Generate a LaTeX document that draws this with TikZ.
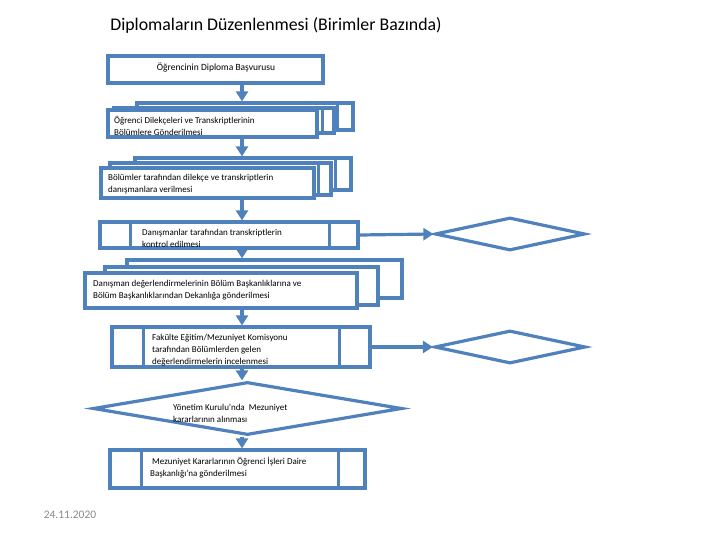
\documentclass[tikz,border=0pt]{standalone}
\usepackage{fontspec}
\setmainfont{Carlito}
\usetikzlibrary{arrows.meta,shapes.geometric}
\definecolor{flowblue}{RGB}{79,129,189}
\definecolor{dategray}{RGB}{137,137,137}
\tikzset{inner sep=0pt}

\begin{document}
\begin{tikzpicture}[x=1pt,y=-1pt,
    box/.style={draw=flowblue,line width=3.2pt,fill=white,rectangle},
    dia/.style={draw=flowblue,line width=3.2pt,fill=white,diamond},
    flow/.style={draw=flowblue,line width=3.2pt,-{Triangle[width=12pt,length=10pt]}},
    stripe/.style={draw=flowblue,line width=3.2pt},
    txt/.style={font=\fontsize{9}{11.8}\selectfont,align=left,anchor=north west}]
    \useasboundingbox (0,0) rectangle (720,540);
    \coordinate (axis) at (242,0);

    \node[font=\fontsize{17.8}{21}\selectfont] (title) at (276,25) {Diplomaların Düzenlenmesi (Birimler Bazında)};

    \node[box,minimum width=215,minimum height=27] (b1) at (215.5,69.5) {};
    \node[font=\fontsize{9.5}{11.5}\selectfont] (t1) at (216,67.5) {Öğrencinin Diploma Başvurusu};

    \node[box,minimum width=216,minimum height=27] (b2a) at (245,116.5) {};
    \draw[stripe] ([xshift=-17]b2a.north east) -- ([xshift=-17]b2a.south east);
    \node[box,minimum width=220,minimum height=25] (b2b) at (224,120.5) {};
    \draw[stripe] ([xshift=-13]b2b.north east) -- ([xshift=-13]b2b.south east);
    \node[box,minimum width=209,minimum height=27] (b2f) at (212.5,123.5) {};
    \node[txt] (t2) at (114,116) {Öğrenci Dilekçeleri ve Transkriptlerinin\\Bölümlere Gönderilmesi};

    \node[box,minimum width=216,minimum height=32] (b3a) at (243,174) {};
    \draw[stripe] ([xshift=-17]b3a.north east) -- ([xshift=-17]b3a.south east);
    \node[box,minimum width=221,minimum height=32] (b3b) at (220.5,179) {};
    \draw[stripe] ([xshift=-14]b3b.north east) -- ([xshift=-14]b3b.south east);
    \node[box,minimum width=213,minimum height=30] (b3f) at (207.5,183) {};
    \node[txt] (t3) at (108,174) {Bölümler tarafından dilekçe ve transkriptlerin\\danışmanlara verilmesi};

    \node[box,minimum width=258,minimum height=26] (b4) at (229,235) {};
    \draw[stripe] ([xshift=32]b4.north west) -- ([xshift=32]b4.south west);
    \draw[stripe] ([xshift=-30]b4.north east) -- ([xshift=-30]b4.south east);
    \node[txt] (t4) at (142,229) {Danışmanlar tarafından transkriptlerin\\kontrol edilmesi};

    \node[dia,minimum width=150,minimum height=33] (d1) at (510,234) {};

    \node[box,minimum width=275,minimum height=38] (b5a) at (264.5,279) {};
    \node[box,minimum width=273,minimum height=38] (b5b) at (241.5,286) {};
    \node[box,minimum width=272,minimum height=35] (b5f) at (221,290.5) {};
    \node[txt] (t5) at (93,280) {Danışman değerlendirmelerinin Bölüm Başkanlıklarına ve\\Bölüm Başkanlıklarından Dekanlığa gönderilmesi};

    \node[box,minimum width=258,minimum height=40] (b6) at (241,347) {};
    \draw[stripe] ([xshift=33]b6.north west) -- ([xshift=33]b6.south west);
    \draw[stripe] ([xshift=-32]b6.north east) -- ([xshift=-32]b6.south east);
    \node[txt] (t6) at (152,334) {Fakülte Eğitim/Mezuniyet Komisyonu\\tarafından Bölümlerden gelen\\değerlendirmelerin incelenmesi};

    \node[dia,minimum width=151,minimum height=33] (d2) at (510,347) {};

    \node[dia,minimum width=309,minimum height=53] (dk) at (247.5,408.5) {};
    \node[txt] (tk) at (173,404) {Yönetim Kurulu’nda~ Mezuniyet\\kararlarının alınması};

    \node[box,minimum width=255,minimum height=38] (b8) at (237.5,469) {};
    \draw[stripe] ([xshift=33]b8.north west) -- ([xshift=33]b8.south west);
    \draw[stripe] ([xshift=-28]b8.north east) -- ([xshift=-28]b8.south east);
    \node[txt] (t8) at (150,457) {~Mezuniyet Kararlarının Öğrenci İşleri Daire\\Başkanlığı’na gönderilmesi};

    \node[font=\fontsize{11.5}{14}\selectfont,text=dategray] (date) at (70,515) {24.11.2020};

    \draw[flow] (b1.south -| axis) -- (b2a.north -| axis);
    \draw[flow] (b2f.south -| axis) -- (b3a.north -| axis);
    \draw[flow] (b3f.south -| axis) -- (b4.north -| axis);
    \draw[flow] (b4.south -| axis) -- (b5a.north -| axis);
    \draw[flow] (b5f.south -| axis) -- (b6.north -| axis);
    \draw[flow] (b6.south -| axis) -- (dk.north -| axis);
    \draw[flow] (dk.south -| axis) -- (b8.north -| axis);
    \draw[flow] (b4.east) -- (d1.west);
    \draw[flow] (b6.east) -- (d2.west);
\end{tikzpicture}
\end{document}
